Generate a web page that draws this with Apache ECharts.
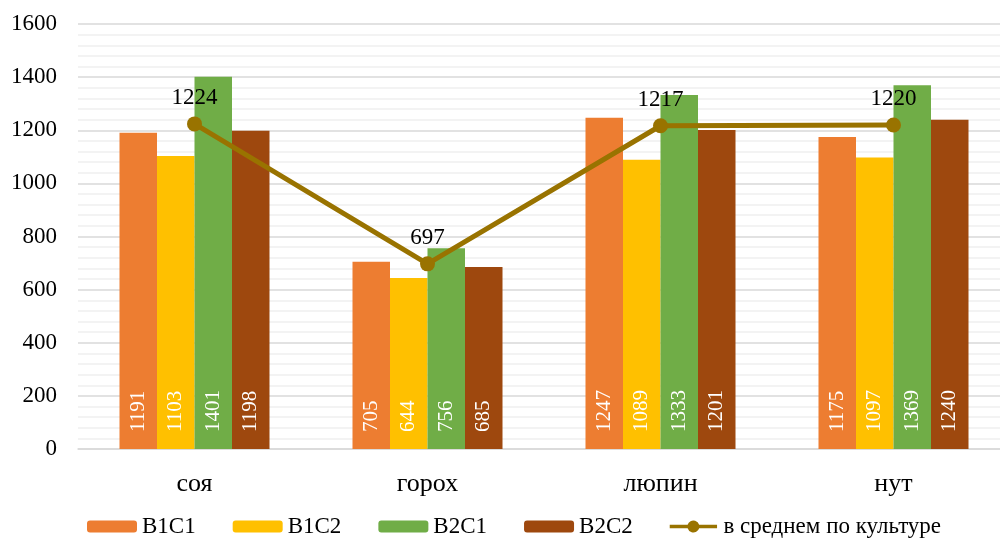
<!DOCTYPE html>
<html><head><meta charset="utf-8">
<script src="https://cdn.jsdelivr.net/npm/echarts@6/dist/echarts.min.js"></script>
<style>html,body{margin:0;padding:0;background:#fff}#c{width:1000px;height:546px}</style>
</head><body><div id="c"></div>
<script>
const categories = ['соя', 'горох', 'люпин', 'нут'];
const b1c1 = [1191, 705, 1247, 1175];
const b1c2 = [1103, 644, 1089, 1097];
const b2c1 = [1401, 756, 1333, 1369];
const b2c2 = [1198, 685, 1201, 1240];
const avg = [1224, 697, 1217, 1220];
const seriesNames = ['B1C1', 'B1C2', 'B2C1', 'B2C2', 'в среднем по культуре'];

const font = 'Liberation Serif, Times New Roman, serif';
const barColors = ['#ED7D31', '#FFC000', '#70AD47', '#9E480E'];
const lineColor = '#997300';
const lineIcon = 'path://M0,5 L20.8,5 A7,7 0 0 1 34.2,5 L55,5 L55,9 L34.2,9 A7,7 0 0 1 20.8,9 L0,9 Z';
const barLabel = {
  show: true, position: 'insideBottom', rotate: 90, align: 'left', verticalAlign: 'middle',
  distance: 17, color: '#fff', fontFamily: font, fontSize: 21
};
function bar(name, data, color) {
  return { name, type: 'bar', data, barWidth: 37.5, barGap: '0%', itemStyle: { color }, label: barLabel };
}
const chart = echarts.init(document.getElementById('c'));
chart.setOption({
  animation: false,
  grid: { left: 78, top: 24, height: 425, width: 932, outerBoundsMode: 'none' },
  legend: {
    bottom: 3, left: 82, itemWidth: 50, itemHeight: 12, itemGap: 37,
    textStyle: { fontFamily: font, fontSize: 23, color: '#000' },
    data: seriesNames.slice(0, 4).map(n => ({ name: n })).concat([{
      name: seriesNames[4], icon: lineIcon, itemWidth: 55, itemHeight: 14,
      itemStyle: { color: lineColor, borderWidth: 0 }
    }])
  },
  xAxis: {
    type: 'category', data: categories,
    axisLine: { lineStyle: { color: '#d9d9d9', width: 1.5 } },
    axisTick: { show: false },
    axisLabel: { fontFamily: font, fontSize: 26, color: '#000', margin: 22 }
  },
  yAxis: {
    type: 'value', min: 0, max: 1600, interval: 200,
    axisLine: { show: false }, axisTick: { show: false },
    axisLabel: { fontFamily: font, fontSize: 23, color: '#000', margin: 21, formatter: v => String(v) },
    splitLine: { lineStyle: { color: '#d9d9d9', width: 1.5 } },
    minorTick: { show: false, splitNumber: 5 },
    minorSplitLine: { show: true, lineStyle: { color: '#f0f0f0', width: 1.5 } }
  },
  series: [
    bar(seriesNames[0], b1c1, barColors[0]),
    bar(seriesNames[1], b1c2, barColors[1]),
    bar(seriesNames[2], b2c1, barColors[2]),
    bar(seriesNames[3], b2c2, barColors[3]),
    {
      name: seriesNames[4], type: 'line', data: avg, z: 10,
      symbol: 'circle', symbolSize: 15,
      lineStyle: { color: lineColor, width: 5 },
      itemStyle: { color: lineColor },
      label: { show: true, position: 'top', distance: 7, color: '#000', fontFamily: font, fontSize: 23 }
    }
  ]
});
</script></body></html>
